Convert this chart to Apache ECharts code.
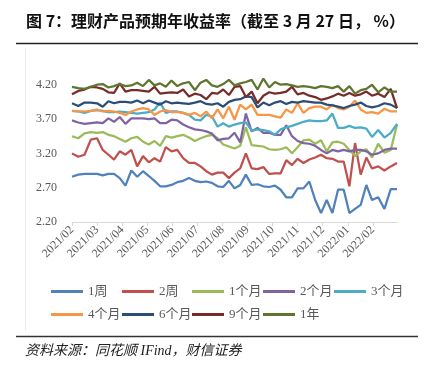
<!DOCTYPE html>
<html><head><meta charset="utf-8">
<script src="https://cdn.jsdelivr.net/npm/echarts@6/dist/echarts.min.js"></script>
<style>html,body{margin:0;padding:0;background:#fff}#c{width:433px;height:371px}</style>
</head><body><div id="c"></div>
<script>
const dates = ['2021-02-01','2021-02-08','2021-02-15','2021-02-22','2021-03-01','2021-03-08','2021-03-15','2021-03-22','2021-03-29','2021-04-05','2021-04-12','2021-04-19','2021-04-26','2021-05-03','2021-05-10','2021-05-17','2021-05-24','2021-05-31','2021-06-07','2021-06-14','2021-06-21','2021-06-28','2021-07-05','2021-07-12','2021-07-19','2021-07-26','2021-08-02','2021-08-09','2021-08-16','2021-08-23','2021-08-30','2021-09-06','2021-09-13','2021-09-20','2021-09-27','2021-10-04','2021-10-11','2021-10-18','2021-10-25','2021-11-01','2021-11-08','2021-11-15','2021-11-22','2021-11-29','2021-12-06','2021-12-13','2021-12-20','2021-12-27','2022-01-03','2022-01-10','2022-01-17','2022-01-24','2022-01-31','2022-02-07','2022-02-14','2022-02-21','2022-02-28'];
const monthLabels = ['2021/02','2021/03','2021/04','2021/05','2021/06','2021/07','2021/08','2021/09','2021/10','2021/11','2021/12','2022/01','2022/02'];
const yTickValues = [2.2, 2.7, 3.2, 3.7, 4.2];
const seriesNames = ['1周','2周','1个月','2个月','3个月','4个月','6个月','9个月','1年'];
const seriesColors = ['#4F81BD','#C0504D','#9BBB59','#8064A2','#4BACC6','#F79646','#2C4D75','#772C2A','#5F7530'];

const week1 = [2.86,2.89,2.90,2.90,2.90,2.88,2.90,2.90,2.84,2.73,2.95,2.86,2.94,2.87,2.80,2.72,2.72,2.74,2.78,2.80,2.84,2.80,2.78,2.79,2.77,2.72,2.71,2.80,2.69,2.74,2.89,2.74,2.75,2.72,2.71,2.73,2.67,2.56,2.56,2.69,2.69,2.79,2.52,2.33,2.52,2.33,2.67,2.67,2.33,2.39,2.45,2.74,2.52,2.56,2.39,2.68,2.68];
const week2 = [3.20,3.15,3.18,3.40,3.42,3.25,3.18,3.11,3.23,3.18,3.25,3.01,3.16,3.07,3.13,3.08,3.29,3.23,3.25,3.13,3.06,3.06,3.01,2.94,2.89,2.92,2.92,2.84,2.92,2.98,3.20,2.98,2.97,3.00,2.90,2.91,2.91,3.10,3.03,3.12,3.06,3.11,3.14,3.18,3.13,3.12,3.08,3.08,2.72,3.35,2.89,3.14,2.98,3.01,2.95,3.01,3.06];
const month1 = [3.45,3.42,3.49,3.51,3.50,3.51,3.47,3.45,3.41,3.37,3.42,3.44,3.37,3.33,3.38,3.31,3.45,3.43,3.45,3.47,3.43,3.38,3.42,3.45,3.47,3.42,3.33,3.30,3.27,3.31,3.58,3.32,3.31,3.30,3.26,3.25,3.26,3.29,3.20,3.29,3.39,3.40,3.34,3.39,3.23,3.36,3.37,3.34,3.25,3.16,3.23,3.26,3.14,3.34,3.21,3.25,3.62];
const month2 = [3.68,3.65,3.63,3.64,3.65,3.64,3.71,3.66,3.73,3.63,3.71,3.71,3.71,3.70,3.71,3.64,3.64,3.69,3.68,3.62,3.58,3.55,3.54,3.52,3.49,3.39,3.41,3.42,3.50,3.36,3.78,3.52,3.57,3.50,3.50,3.47,3.47,3.61,3.45,3.38,3.35,3.34,3.31,3.25,3.20,3.25,3.23,3.25,3.23,3.25,3.25,3.23,3.18,3.20,3.25,3.27,3.27];
const month3 = [3.82,3.81,3.79,3.82,3.83,3.82,3.80,3.80,3.81,3.80,3.79,3.78,3.79,3.80,3.84,3.94,3.79,3.81,3.81,3.79,3.76,3.69,3.68,3.76,3.74,3.59,3.64,3.59,3.62,3.64,3.65,3.53,3.55,3.54,3.52,3.47,3.55,3.58,3.60,3.63,3.66,3.68,3.67,3.67,3.68,3.78,3.57,3.57,3.60,3.57,3.58,3.56,3.44,3.54,3.43,3.50,3.63];
const month4 = [3.82,3.81,3.81,3.82,3.84,3.81,3.82,3.81,3.79,3.76,3.81,3.84,3.86,3.84,3.76,3.81,3.83,3.80,3.80,3.79,3.76,3.79,3.74,3.81,3.71,3.84,3.71,3.88,3.69,3.91,3.84,3.91,3.76,3.76,3.76,3.74,3.72,3.84,3.79,3.93,3.79,3.86,3.88,3.88,3.84,3.91,3.86,3.84,3.88,3.97,3.84,3.79,3.80,3.78,3.85,3.81,3.81];
const month6 = [3.93,3.89,3.94,3.94,3.93,3.88,3.96,3.93,3.95,3.95,3.94,3.97,3.93,3.97,3.94,3.91,3.96,3.93,3.94,3.93,3.92,3.94,3.96,3.92,3.91,3.93,3.88,3.95,3.98,3.99,4.03,4.02,3.87,3.94,3.90,3.94,3.96,3.92,3.95,3.94,3.96,3.95,3.94,3.94,3.91,3.90,3.88,3.86,3.89,3.91,3.94,3.89,3.87,3.89,3.93,3.91,3.86];
const month9 = [4.06,4.11,4.13,4.17,4.16,4.14,4.09,4.08,4.22,4.10,4.12,4.12,4.11,4.10,4.17,4.07,4.08,4.09,4.08,4.13,4.03,4.07,4.05,3.99,4.08,4.07,4.13,4.05,4.17,4.18,4.02,4.10,3.93,4.04,4.09,4.07,4.08,4.10,4.17,4.06,4.08,4.04,4.02,3.98,4.00,4.03,4.07,4.04,4.08,4.04,4.06,4.10,4.04,4.07,4.02,4.14,3.86];
const year1 = [4.17,4.15,4.14,4.17,4.20,4.21,4.16,4.18,4.21,4.18,4.19,4.23,4.18,4.27,4.19,4.22,4.17,4.26,4.18,4.22,4.24,4.12,4.23,4.27,4.19,4.17,4.21,4.27,4.19,4.22,4.24,4.27,4.13,4.29,4.16,4.24,4.20,4.21,4.19,4.17,4.18,4.17,4.15,4.18,4.17,4.15,4.18,4.10,4.18,4.07,4.12,4.14,4.20,4.09,4.16,4.10,4.10];
const allValues = [week1, week2, month1, month2, month3, month4, month6, month9, year1];

function toMonthX(s) {
  const p = s.split('-').map(Number);
  const dim = new Date(p[0], p[1], 0).getDate();
  return (p[0] - 2021) * 12 + (p[1] - 2) + (p[2] - 1) / dim;
}
const xs = dates.map(toMonthX);
const monthTicks = monthLabels.map((_, i) => i);

const serif = "'Liberation Serif','Noto Sans CJK SC',serif";
const legendCols = [51, 122, 192, 263, 334];
const legendRows = [285, 308];
const legends = seriesNames.map((n, i) => {
  const r = i < 5 ? 0 : 1;
  const c = i < 5 ? i : i - 5;
  return {
    data: [n], left: legendCols[c], top: legendRows[r], padding: 0,
    icon: 'rect', itemWidth: 32, itemHeight: 3, itemGap: 0,
    selectedMode: false,
    textStyle: { fontFamily: serif, fontSize: 13, color: '#595959' }
  };
});

const chart = echarts.init(document.getElementById('c'), null, { renderer: 'canvas' });
chart.setOption({
  backgroundColor: '#fff',
  animation: false,
  grid: { left: 72, right: 36, top: 71, bottom: 149, containLabel: false },
  legend: legends,
  xAxis: {
    type: 'value', min: 0, max: xs[xs.length - 1], interval: 1,
    axisLine: { show: true, lineStyle: { color: '#D9D9D9', width: 1 } },
    axisTick: { show: true, length: 4, lineStyle: { color: '#D9D9D9' }, customValues: monthTicks },
    splitLine: { show: false },
    axisLabel: {
      customValues: monthTicks,
      rotate: 45, margin: 6, fontFamily: serif, fontSize: 12, color: '#595959',
      formatter: v => monthLabels[Math.round(v)] || ''
    }
  },
  yAxis: {
    type: 'value', min: 2.2, max: 4.4, interval: 0.5,
    axisLine: { show: false }, axisTick: { show: false }, splitLine: { show: false },
    axisLabel: {
      customValues: yTickValues,
      margin: 15, fontFamily: serif, fontSize: 12, color: '#595959',
      formatter: v => v.toFixed(2)
    }
  },
  series: seriesNames.map((n, i) => ({
    name: n, type: 'line', symbol: 'none', smooth: false,
    color: seriesColors[i],
    lineStyle: { width: 2.25, color: seriesColors[i] },
    itemStyle: { color: seriesColors[i] },
    data: xs.map((x, k) => [x, allValues[i][k]])
  })),
  graphic: [
    { type: 'text', left: 26, top: 13, style: { text: '图 7：理财产品预期年收益率（截至 3 月 27 日， %）', font: "bold 16px 'Noto Sans CJK SC', sans-serif", fill: '#111' } },
    { type: 'line', shape: { x1: 16, y1: 43.5, x2: 418, y2: 43.5 }, style: { stroke: '#222', lineWidth: 1.5 } },
    { type: 'line', shape: { x1: 25.5, y1: 48, x2: 25.5, y2: 331 }, style: { stroke: '#EDEDED', lineWidth: 1 } },
    { type: 'line', shape: { x1: 16, y1: 336.5, x2: 418, y2: 336.5 }, style: { stroke: '#333', lineWidth: 1.5 } },
    { type: 'text', left: 25, top: 344, style: { text: '资料来源：同花顺 IFind，财信证券', font: "italic 14px 'Liberation Serif','Noto Sans CJK SC', serif", fill: '#222' } }
  ]
});
</script></body></html>
